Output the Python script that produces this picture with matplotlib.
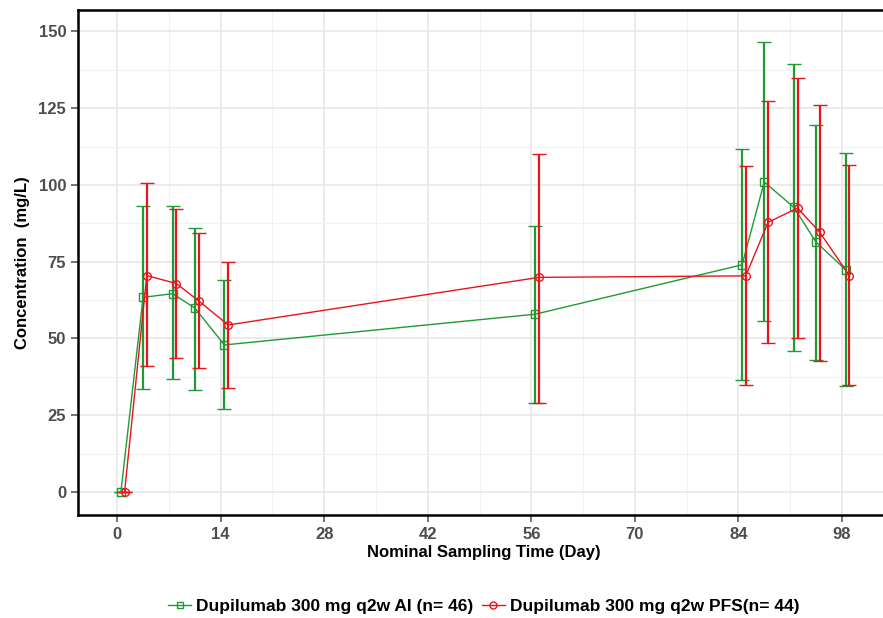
import matplotlib
matplotlib.use('Agg')
import matplotlib.pyplot as plt
from matplotlib.lines import Line2D
from matplotlib.ticker import MultipleLocator

plt.rcParams['font.family'] = ['Liberation Sans', 'DejaVu Sans']

# 명목 채혈일 (Day)
days = [1, 4, 8, 11, 15, 57, 85, 88, 92, 95, 99]

# AI 군: 평균 농도와 SD 범위 (mg/L)
ai_mean = [0, 63.4, 64.6, 59.9, 47.9, 57.9, 74.0, 101.0, 92.7, 81.4, 72.4]
ai_upper = [0, 93.3, 93.0, 86.0, 68.9, 86.5, 111.7, 146.6, 139.4, 119.7, 110.4]
ai_lower = [0, 33.5, 36.7, 33.3, 27.0, 28.9, 36.5, 55.8, 46.0, 43.0, 34.6]

# PFS 군
pfs_mean = [0, 70.5, 67.9, 62.3, 54.4, 69.9, 70.4, 87.8, 92.5, 84.6, 70.5]
pfs_upper = [0, 100.6, 92.2, 84.3, 74.8, 110.1, 106.3, 127.5, 134.7, 126.2, 106.6]
pfs_lower = [0, 40.9, 43.6, 40.3, 34.0, 29.1, 34.9, 48.5, 50.1, 42.8, 34.9]

ai_label = 'Dupilumab 300 mg q2w AI (n= 46)'
pfs_label = 'Dupilumab 300 mg q2w PFS(n= 44)'

green = '#1f9a35'
red = '#e8141c'
tick_color = '#4d4d4d'

fig = plt.figure(figsize=(8.83, 6.18), dpi=100)
ax = fig.add_axes([78 / 883, 103 / 618, 812 / 883, 505 / 618])

# 두 군이 겹치지 않도록 AI 군을 약간 왼쪽으로 이동
ai_x = [d - 0.5 for d in days]
ai_err = [[m - lo for m, lo in zip(ai_mean, ai_lower)],
          [hi - m for m, hi in zip(ai_mean, ai_upper)]]
pfs_err = [[m - lo for m, lo in zip(pfs_mean, pfs_lower)],
           [hi - m for m, hi in zip(pfs_mean, pfs_upper)]]

ax.errorbar(ai_x, ai_mean, yerr=ai_err, color=green, marker='s', mfc='none',
            mec=green, ms=5.5, mew=1.0, lw=1.0, elinewidth=1.6, capsize=5,
            capthick=1.6, zorder=3)
ax.errorbar(days, pfs_mean, yerr=pfs_err, color=red, marker='o', mfc='none',
            mec=red, ms=5.5, mew=1.0, lw=1.0, elinewidth=1.6, capsize=5,
            capthick=1.6, zorder=4)

ax.set_xlim(-5.3, 104.5)
ax.set_ylim(-7.5, 157)
ax.xaxis.set_major_locator(MultipleLocator(14))
ax.xaxis.set_minor_locator(MultipleLocator(7))
ax.yaxis.set_major_locator(MultipleLocator(25))
ax.yaxis.set_minor_locator(MultipleLocator(12.5))

ax.grid(which='major', color='#e6e6e6', lw=1.1)
ax.grid(which='minor', color='#f2f2f2', lw=0.8)
ax.set_axisbelow(True)

for s in ax.spines.values():
    s.set_color('black')
    s.set_linewidth(1.8)

ax.tick_params(which='major', direction='out', length=5, width=1.1,
               color=tick_color, labelcolor=tick_color, labelsize=12)
ax.tick_params(which='minor', length=0)
for lab in ax.get_xticklabels() + ax.get_yticklabels():
    lab.set_fontweight('bold')

ax.set_xlabel('Nominal Sampling Time (Day)', fontsize=12, fontweight='bold',
              labelpad=2)
ax.set_ylabel('Concentration  (mg/L)', fontsize=12, fontweight='bold',
              labelpad=6)

# 범례는 선 + 마커만 표시
handles = [
    Line2D([], [], color=green, marker='s', mfc='none', mec=green, ms=5, lw=1.0),
    Line2D([], [], color=red, marker='o', mfc='none', mec=red, ms=5, lw=1.0),
]
fig.legend(handles, [ai_label, pfs_label], loc='center',
           bbox_to_anchor=(0.548, 0.018), ncol=2, frameon=False,
           handlelength=1.3, handletextpad=0.3, columnspacing=0.5,
           prop={'weight': 'bold', 'size': 12.5})

fig.savefig('out.png', dpi=100)
